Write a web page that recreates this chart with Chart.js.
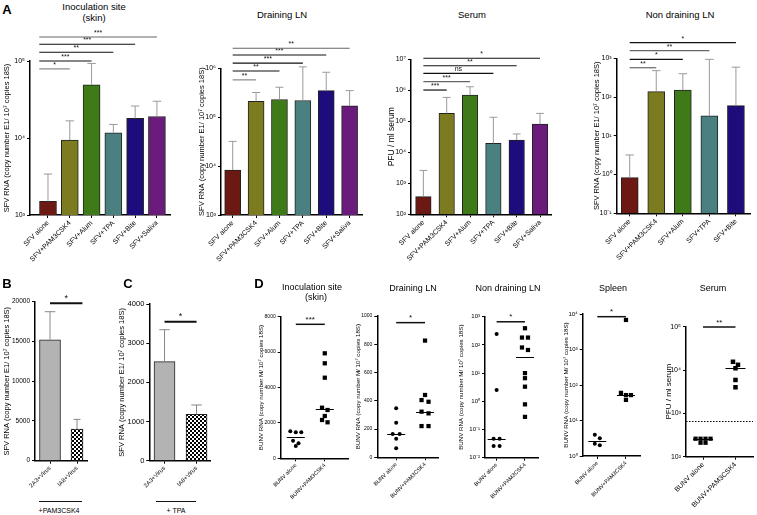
<!DOCTYPE html>
<html>
<head>
<meta charset="utf-8">
<script src="https://cdn.jsdelivr.net/npm/chart.js@4.4.0/dist/chart.umd.min.js"></script>
<style>
  body { margin: 0; background: #fff; }
  #fig { position: relative; width: 757px; height: 515px; overflow: hidden; font-family: "Liberation Sans", Arial, sans-serif; }
  .box { position: absolute; }
  .lbl { position: absolute; white-space: nowrap; color: #000; transform: translate(-50%, -50%); line-height: 1; }
  .rule { position: absolute; background: #111; }
</style>
</head>
<body>
<div id="fig"></div>
<script>
// --- Panel A data (means and upper SEM) ---
const sfvGroups = ['SFV alone', 'SFV+PAM3CSK4', 'SFV+Alum', 'SFV+TPA', 'SFV+Bite', 'SFV+Saliva'];
const sfvColors = ['#6b1912', '#7c7b1f', '#3f7a18', '#4b8080', '#1c0c7c', '#6b1b7c'];

const skinMean = [1500, 9400, 49000, 11700, 18000, 19000];
const skinErr = [3400, 16700, 93000, 15000, 26000, 30000];
const skinTicks = [1e3, 1e4, 1e5];
const skinSig = [[1, '*', 7.9e4], [2, '***', 1.0e5], [3, '**', 1.3e5], [4, '***', 1.65e5], [5, '***', 2.05e5]];

const dlnMean = [8300, 2.1e5, 2.3e5, 2.2e5, 3.5e5, 1.7e5];
const dlnErr = [3.2e4, 3.2e5, 4.1e5, 1.07e6, 8.3e5, 3.5e5];
const dlnTicks = [1e3, 1e4, 1e5, 1e6];
const dlnSig = [[1, '**', 5.8e5], [2, '**', 8.8e5], [3, '***', 1.27e6], [4, '***', 1.87e6], [5, '**', 2.57e6]];

const serMean = [370, 1.8e5, 7.0e5, 1.95e4, 2.5e4, 8.1e4];
const serErr = [2600, 5.9e5, 1.3e6, 1.35e5, 3.9e4, 1.8e5];
const serTicks = [1e2, 1e3, 1e4, 1e5, 1e6, 1e7];
const serSig = [[1, '***', 1.02e6], [2, '***', 1.9e6], [3, 'ns', 3.5e6], [4, '**', 6.2e6], [5, '*', 1.08e7]];

const ndlnGroups = sfvGroups.slice(0, 5);
const ndlnMean = [0.83, 138, 151, 33, 60];
const ndlnErr = [3.2, 480, 400, 940, 590];
const ndlnTicks = [0.1, 1, 10, 100, 1000];
const ndlnSig = [[1, '**', 571], [2, '*', 942], [3, '**', 1570], [4, '*', 2530]];

// --- Panels B and C ---
const koGroups = ['2A3+Virus', 'IA8+Virus'];
const pamMean = [15200, 3990];
const pamErr = [18740, 5200];
const pamTicks = [0, 5000, 10000, 15000, 20000];
const pamSig = [[1, '*', 19800]];
const tpaMean = [2527, 1184];
const tpaErr = [3344, 1422];
const tpaTicks = [0, 1000, 2000, 3000, 4000];
const tpaSig = [[1, '*', 3548]];

// --- Panel D (individual animals + medians) ---
const bunvGroups = ['BUNV alone', 'BUNV+PAM3CSK4'];
const dSkinAlone = [1469, 1469, 1525, 994, 695, 847];
const dSkinPam = [5932, 5367, 4554, 2729, 2859, 2390, 2034, 2164];
const dSkinMed = [1230, 2790];
const dSkinTicks = [0, 2000, 4000, 6000, 8000];
const dSkinSig = [[1, '***', 7570]];

const dDlnAlone = [347, 245, 165, 165, 132, 64];
const dDlnPam = [826, 441, 405, 393, 311, 323, 221, 221];
const dDlnMed = [165, 323];
const dDlnTicks = [0, 200, 400, 600, 800, 1000];
const dDlnSig = [[1, '*', 953]];

const dNdlnAlone = [245, 2.5, 0.047, 0.047, 0.026, 0.026];
const dNdlnPam = [390, 182, 182, 81, 66, 10, 6.6, 3.3, 0.78, 0.28];
const dNdlnMed = [0.047, 38];
const dNdlnTicks = [0.01, 0.1, 1, 10, 100, 1000];
const dNdlnSig = [[1, '*', 660]];

const dSplAlone = [4.0, 3.15, 2.0, 2.2];
const dSplPam = [6800, 52, 60, 52, 38];
const dSplMed = [2.7, 52];
const dSplTicks = [1, 10, 100, 1000, 10000];
const dSplSig = [[1, '*', 8400]];

const dSerAlone = [260, 260, 260, 260, 210, 210];
const dSerPam = [15500, 13200, 11000, 5900, 4000];
const dSerMed = [260, 11000];
const dSerTicks = [1e2, 1e3, 1e4, 1e5];
const dSerSig = [[1, '**', 9.8e4]];
const dSerLimit = 680;

const FONT = '"Liberation Sans", Arial, sans-serif';
Chart.defaults.font.family = FONT;
Chart.defaults.color = '#000';

const fig = document.getElementById('fig');
const SUP = '⁰¹²³⁴⁵⁶⁷⁸⁹';
const sup = n => String(n).split('').map(c => (c === '-' ? '⁻' : SUP[+c])).join('');
const pow10 = v => '10' + sup(Math.round(Math.log10(v)));
const plain = v => String(v);

function checker() {
  const c = document.createElement('canvas');
  c.width = c.height = 4;
  const g = c.getContext('2d');
  g.fillStyle = '#fff'; g.fillRect(0, 0, 4, 4);
  g.fillStyle = '#000'; g.fillRect(0, 0, 2, 2); g.fillRect(2, 2, 2, 2);
  return g.createPattern(c, 'repeat');
}

function mount(box) {
  const [x, y, w, h] = box;
  const div = document.createElement('div');
  div.className = 'box';
  div.style.cssText = `left:${x}px;top:${y}px;width:${w}px;height:${h}px`;
  const cv = document.createElement('canvas');
  cv.width = w; cv.height = h;
  cv.style.width = w + 'px'; cv.style.height = h + 'px';
  div.appendChild(cv);
  fig.appendChild(div);
  return cv;
}

function text(str, cx, cy, size, bold) {
  const d = document.createElement('div');
  d.className = 'lbl';
  d.textContent = str;
  d.style.cssText = `left:${cx}px;top:${cy}px;font-size:${size}px;font-weight:${bold ? 'bold' : 'normal'}`;
  fig.appendChild(d);
}

function rule(x0, x1, y, w) {
  const d = document.createElement('div');
  d.className = 'rule';
  d.style.cssText = `left:${x0}px;top:${y - w / 2}px;width:${x1 - x0}px;height:${w}px`;
  fig.appendChild(d);
}

// shared options: forces the chart area onto the reference's axis box
function options(p) {
  const [bx, by, bw, bh] = p.box;
  const [l, t, r, b] = p.area;
  const tLine = p.tfs * 1.2;
  return {
    responsive: false,
    animation: false,
    events: [],
    devicePixelRatio: 1,
    layout: { padding: { left: 0, top: t - by, right: bx + bw - r, bottom: 0 } },
    plugins: { legend: { display: false }, tooltip: { enabled: false } },
    scales: {
      x: {
        type: 'linear', min: p.xmin, max: p.xmax, offset: false,
        afterFit: s => { s.height = by + bh - b; },
        afterBuildTicks: s => { s.ticks = p.labels.map((_, i) => ({ value: i })); },
        ticks: { callback: v => p.labels[v], font: { size: p.xfs }, minRotation: 45, maxRotation: 45, padding: 1, autoSkip: false },
        grid: { drawOnChartArea: false, offset: false, tickLength: 3, color: '#000' },
        border: { color: '#000', width: 1.5 }
      },
      y: {
        type: p.log ? 'logarithmic' : 'linear',
        min: p.ticks[0], max: p.ticks[p.ticks.length - 1],
        afterFit: s => { s.width = l - bx; },
        afterBuildTicks: s => { s.ticks = p.ticks.map(v => ({ value: v })); },
        ticks: { callback: p.log ? pow10 : plain, font: { size: p.yfs }, padding: 2, autoSkip: false },
        grid: { drawOnChartArea: false, tickLength: 3, color: '#000' },
        border: { color: '#000', width: 1.5 },
        title: { display: true, text: p.title, font: { size: p.tfs }, padding: { top: p.titleX - bx - tLine / 2, bottom: 0 } }
      }
    }
  };
}

// one dataset per bar, so every bar can keep its own width
const errPlugin = (errs, color) => ({
  id: 'err',
  afterDatasetsDraw(chart) {
    const { ctx, scales: { y } } = chart;
    ctx.save();
    ctx.strokeStyle = color; ctx.lineWidth = 1;
    errs.forEach((e, i) => {
      const bar = chart.getDatasetMeta(i).data[0];
      const top = y.getPixelForValue(e);
      const cap = Math.max(bar.width * 0.25, 3.5);
      ctx.beginPath();
      ctx.moveTo(bar.x, bar.y); ctx.lineTo(bar.x, top);
      ctx.moveTo(bar.x - cap, top); ctx.lineTo(bar.x + cap, top);
      ctx.stroke();
    });
    ctx.restore();
  }
});

const sigPlugin = (list, o) => ({
  id: 'sig',
  afterDraw(chart) {
    const { ctx, scales: { x, y } } = chart;
    ctx.save();
    ctx.font = `${o.fs}px ${FONT}`;
    ctx.textAlign = 'center'; ctx.textBaseline = 'bottom';
    list.forEach(([to, label, level], k) => {
      const x0 = x.getPixelForValue(o.from);
      const x1 = x.getPixelForValue(to + (o.toOff || 0));
      const py = y.getPixelForValue(level);
      ctx.strokeStyle = (o.colors && o.colors[k]) || '#111';
      ctx.lineWidth = o.lw;
      ctx.beginPath(); ctx.moveTo(x0, py); ctx.lineTo(x1, py); ctx.stroke();
      ctx.fillStyle = '#111';
      ctx.fillText(label, (x0 + x1) / 2, py - 0.5);
    });
    ctx.restore();
  }
});

// column scatter: points at nearly the same height share a row, spread evenly about the group centre
const swarmPlugin = (step, gap) => ({
  id: 'swarm',
  afterDatasetsUpdate(chart) {
    chart.data.datasets.forEach((ds, d) => {
      const pts = chart.getDatasetMeta(d).data.slice().sort((a, b) => a.y - b.y);
      const rows = [];
      pts.forEach(pt => {
        const row = rows[rows.length - 1];
        if (row && Math.abs(pt.y - row[0].y) < gap) row.push(pt);
        else rows.push([pt]);
      });
      rows.forEach(row => {
        row.forEach((pt, i) => { pt.x += (i - (row.length - 1) / 2) * step; });
      });
    });
  }
});

const medPlugin = (meds, hw) => ({
  id: 'med',
  afterDatasetsDraw(chart) {
    const { ctx, scales: { x, y } } = chart;
    ctx.save();
    ctx.strokeStyle = '#000'; ctx.lineWidth = 1;
    meds.forEach((m, g) => {
      const px = x.getPixelForValue(g), py = Math.round(y.getPixelForValue(m)) + 0.5;
      ctx.beginPath(); ctx.moveTo(px - hw, py); ctx.lineTo(px + hw, py); ctx.stroke();
    });
    ctx.restore();
  }
});

const limitPlugin = value => ({
  id: 'limit',
  afterDatasetsDraw(chart) {
    const { ctx, chartArea, scales: { y } } = chart;
    const py = Math.round(y.getPixelForValue(value)) + 0.5;
    ctx.save();
    ctx.strokeStyle = '#000'; ctx.lineWidth = 1; ctx.setLineDash([1.5, 1.5]);
    ctx.beginPath(); ctx.moveTo(chartArea.left, py); ctx.lineTo(chartArea.right, py); ctx.stroke();
    ctx.restore();
  }
});

function barChart(p) {
  const datasets = p.values.map((v, i) => ({
    data: [{ x: i, y: v }],
    backgroundColor: p.colors[i],
    borderColor: '#222',
    borderWidth: 1,
    barThickness: Array.isArray(p.barW) ? p.barW[i] : p.barW,
    grouped: false
  }));
  new Chart(mount(p.box), {
    type: 'bar',
    data: { datasets },
    options: options(p),
    plugins: [errPlugin(p.errs, p.errColor), sigPlugin(p.sig, p.sigOpt)]
  });
}

function dotChart(p) {
  const set = (vals, g, style, r) => ({
    data: vals.map(v => ({ x: g, y: v })),
    pointStyle: style, pointRadius: r,
    backgroundColor: '#000', borderColor: '#000', borderWidth: 0,
    clip: false
  });
  const plugins = [swarmPlugin(p.step, p.gap), medPlugin(p.meds, p.hw), sigPlugin(p.sig, { from: 0, lw: 1.5, fs: 8 })];
  if (p.limit) plugins.push(limitPlugin(p.limit));
  new Chart(mount(p.box), {
    type: 'scatter',
    data: { datasets: [set(p.a, 0, p.styles[0], p.r[0]), set(p.b, 1, p.styles[1], p.r[1])] },
    options: options(p),
    plugins
  });
}

const sfvTitle = 'SFV RNA (copy number E1/ 10⁷ copies 18S)';
const bunvTitle = 'BUNV RNA (copy number M/ 10⁷ copies 18S)';
const pfuTitle = 'PFU / ml serum';

// ---- A ----
barChart({ box: [0, 28, 185, 237], area: [30, 61, 170, 215], xmin: -0.826, xmax: 5.6, barW: 17,
  labels: sfvGroups, values: skinMean, errs: skinErr, colors: sfvColors, errColor: '#9a9a9a',
  log: true, ticks: skinTicks, title: sfvTitle, titleX: 7, tfs: 7.5, yfs: 7, xfs: 7,
  sig: skinSig, sigOpt: { from: -0.4, lw: 1.2, fs: 7, colors: ['#888', '#111', '#111', '#111', '#666'] } });

barChart({ box: [185, 28, 190, 237], area: [221, 68.3, 362, 215], xmin: -0.5, xmax: 5.53, barW: 16,
  labels: sfvGroups, values: dlnMean, errs: dlnErr, colors: sfvColors, errColor: '#9a9a9a',
  log: true, ticks: dlnTicks, title: sfvTitle, titleX: 201.7, tfs: 7.5, yfs: 7, xfs: 7,
  sig: dlnSig, sigOpt: { from: 0, lw: 1.2, fs: 7, colors: ['#888', '#111', '#111', '#111', '#666'] } });

barChart({ box: [375, 28, 185, 237], area: [411, 59.3, 551, 214.3], xmin: -0.53, xmax: 5.47, barW: 15.5,
  labels: sfvGroups, values: serMean, errs: serErr, colors: sfvColors, errColor: '#9a9a9a',
  log: true, ticks: serTicks, title: pfuTitle, titleX: 391.7, tfs: 8.5, yfs: 7, xfs: 7,
  sig: serSig, sigOpt: { from: 0, lw: 1.2, fs: 7, colors: ['#111', '#666', '#111', '#111', '#111'] } });

barChart({ box: [565, 28, 192, 237], area: [616.7, 58.3, 750, 213.3], xmin: -0.49, xmax: 4.53, barW: 17,
  labels: ndlnGroups, values: ndlnMean, errs: ndlnErr, colors: sfvColors, errColor: '#9a9a9a',
  log: true, ticks: ndlnTicks, title: sfvTitle, titleX: 596.7, tfs: 7.5, yfs: 7, xfs: 7,
  sig: ndlnSig, sigOpt: { from: 0, lw: 1.2, fs: 7, colors: ['#666', '#111', '#666', '#111'] } });

// ---- B / C ----
barChart({ box: [0, 280, 100, 220], area: [35, 301.7, 87, 460.7], xmin: -0.556, xmax: 1.37, barW: [21, 12],
  labels: koGroups, values: pamMean, errs: pamErr, colors: ['#b3b3b3', checker()], errColor: '#888',
  log: false, ticks: pamTicks, title: sfvTitle, titleX: 6.7, tfs: 7.5, yfs: 6.5, xfs: 6,
  sig: pamSig, sigOpt: { from: 0, toOff: 0.2, lw: 2, fs: 9 } });

barChart({ box: [100, 280, 120, 220], area: [149.3, 304, 210, 460.7], xmin: -0.475, xmax: 1.42, barW: 21,
  labels: koGroups, values: tpaMean, errs: tpaErr, colors: ['#b3b3b3', checker()], errColor: '#888',
  log: false, ticks: tpaTicks, title: sfvTitle, titleX: 121.7, tfs: 7.5, yfs: 7.5, xfs: 6,
  sig: tpaSig, sigOpt: { from: 0, lw: 2, fs: 9 } });

// ---- D ----
dotChart({ box: [250, 300, 105, 200], area: [280.7, 316.7, 348, 458.3], xmin: -0.52, xmax: 1.8,
  labels: bunvGroups, a: dSkinAlone, b: dSkinPam, meds: dSkinMed, sig: dSkinSig,
  styles: ['circle', 'rect'], r: [2, 3], step: 5.5, gap: 4, hw: 9,
  log: false, ticks: dSkinTicks, title: bunvTitle, titleX: 261.7, tfs: 6.2, yfs: 5, xfs: 5.5 });

dotChart({ box: [350, 300, 95, 200], area: [377.3, 316, 438.3, 457.3], xmin: -0.655, xmax: 1.46,
  labels: bunvGroups, a: dDlnAlone, b: dDlnPam, meds: dDlnMed, sig: dDlnSig,
  styles: ['circle', 'rect'], r: [2, 3], step: 7, gap: 4, hw: 9,
  log: false, ticks: dDlnTicks, title: bunvTitle, titleX: 358.3, tfs: 6.2, yfs: 5, xfs: 5.5 });

dotChart({ box: [455, 300, 90, 200], area: [485, 316.7, 538.3, 457.7], xmin: -0.41, xmax: 1.47,
  labels: bunvGroups, a: dNdlnAlone, b: dNdlnPam, meds: dNdlnMed, sig: dNdlnSig,
  styles: ['circle', 'rect'], r: [2, 3], step: 6, gap: 4, hw: 9,
  log: true, ticks: dNdlnTicks, title: bunvTitle, titleX: 461, tfs: 6.2, yfs: 6, xfs: 5.5 });

dotChart({ box: [558, 300, 90, 200], area: [582.7, 314, 640, 456], xmin: -0.51, xmax: 1.49,
  labels: bunvGroups, a: dSplAlone, b: dSplPam, meds: dSplMed, sig: dSplSig,
  styles: ['circle', 'rect'], r: [2, 3], step: 5, gap: 4, hw: 9,
  log: true, ticks: dSplTicks, title: bunvTitle, titleX: 566, tfs: 6.2, yfs: 6, xfs: 5.5 });

dotChart({ box: [650, 300, 107, 215], area: [686, 326.7, 756.7, 456.7], xmin: -0.525, xmax: 1.54,
  labels: bunvGroups, a: dSerAlone, b: dSerPam, meds: dSerMed, sig: dSerSig, limit: dSerLimit,
  styles: ['rect', 'rect'], r: [3, 3.2], step: 5, gap: 3.5, hw: 10,
  log: true, ticks: dSerTicks, title: pfuTitle, titleX: 668.3, tfs: 8, yfs: 7, xfs: 7 });

// ---- panel letters, titles and group captions ----
text('A', 7, 9, 13, true);
text('Inoculation site', 94, 7, 9.5);
text('(skin)', 94, 18, 9.5);
text('Draining LN', 282, 15, 9.5);
text('Serum', 472, 15, 9.5);
text('Non draining LN', 680, 15, 9.5);

text('B', 7, 283, 13, true);
text('C', 128, 283, 13, true);
text('D', 259, 283, 13, true);
text('Inoculation site', 312, 287, 9);
text('(skin)', 316, 297, 9);
text('Draining LN', 413, 288, 9);
text('Non draining LN', 508, 288, 9);
text('Spleen', 613, 288, 9);
text('Serum', 713, 288, 9);

rule(39, 82, 501.7, 1.5);
text('+PAM3CSK4', 59, 510, 7);
rule(156, 196, 501.7, 1.5);
text('+ TPA', 176, 510, 7);
</script>
</body>
</html>
